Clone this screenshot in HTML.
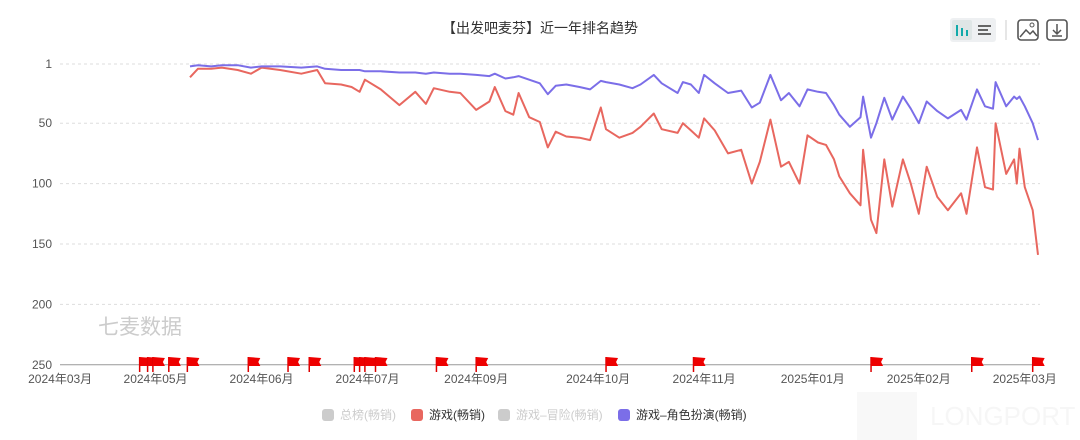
<!DOCTYPE html>
<html><head><meta charset="utf-8"><style>
body{margin:0;background:#fff;font-family:"Liberation Sans","Noto Sans CJK SC",sans-serif}
#wrap{position:relative;width:1080px;height:440px;overflow:hidden}
</style></head><body>
<div id="wrap">
<svg id="chart" width="1080" height="440">
<text x="540" y="33" text-anchor="middle" font-size="14" fill="#333">【出发吧麦芬】近一年排名趋势</text>
<g>
<rect x="950" y="18" width="46" height="24" rx="3" fill="#eef0f2"/>
<rect x="952" y="20" width="20" height="20" rx="2" fill="#dfe6e6"/>
<rect x="956" y="25" width="2" height="11" fill="#1aa"/><rect x="961" y="28" width="2" height="8" fill="#1aa"/><rect x="966" y="30" width="2" height="6" fill="#1aa"/>
<rect x="978" y="25" width="13" height="2" fill="#666"/><rect x="978" y="29" width="10" height="2" fill="#666"/><rect x="978" y="33" width="13" height="2" fill="#666"/>
</g>
<line x1="1006" y1="20" x2="1006" y2="40" stroke="#ccc"/>
<g><rect x="1018" y="20" width="20" height="20" rx="3" fill="none" stroke="#555" stroke-width="1.6"/><path d="M1020 37 L1026 30 L1030 34 L1033 31 L1037 36" fill="none" stroke="#555" stroke-width="1.5"/><circle cx="1032" cy="25" r="2" fill="none" stroke="#555"/></g>
<g><rect x="1047" y="20" width="20" height="20" rx="3" fill="none" stroke="#555" stroke-width="1.6"/><path d="M1057 24 V34 M1053 30 L1057 34 L1061 30 M1052 36 H1062" fill="none" stroke="#555" stroke-width="1.5"/></g>
<text x="98" y="334" font-size="21" fill="#ccc">七麦数据</text>
<g opacity="0.5"><rect x="857" y="392" width="60" height="48" fill="#f2f2f2"/><text x="930" y="425" font-size="26" fill="#eee">LONGPORT</text></g>
<g id="grid"></g><g id="series"></g><g id="flags"></g>
<g font-size="12">
<g><rect x="322" y="409" width="12" height="12" rx="3" fill="#ccc"/><text x="340" y="419" fill="#ccc">总榜(畅销)</text></g>
<g><rect x="411" y="409" width="12" height="12" rx="3" fill="#e8675f"/><text x="429" y="419" fill="#333">游戏(畅销)</text></g>
<g><rect x="498" y="409" width="12" height="12" rx="3" fill="#ccc"/><text x="516" y="419" fill="#ccc">游戏–冒险(畅销)</text></g>
<g><rect x="618" y="409" width="12" height="12" rx="3" fill="#7b6ee8"/><text x="636" y="419" fill="#333">游戏–角色扮演(畅销)</text></g>
</g>
</svg></div>
<script>
const days=[0,3,8,12,18,23,27,34,42,48,51,57,61,64,66,72,79,85,89,92,98,102,108,113,115,119,122,124,128,132,135,138,142,147,151,155,157,162,167,170,175,178,184,186,189,192,194,198,203,208,212,215,219,223,226,230,233,237,240,243,245,249,253,254,257,259,262,265,269,272,275,278,282,286,291,293,297,300,303,304,308,311,312,313,315,318,320];
const gameRank=[12,5,5,4,6,9,4,6,9,6,17,18,20,24,14,22,35,24,34,21,24,25,39,32,20,40,43,25,45,49,70,57,61,62,64,37,55,62,58,53,42,55,58,50,56,62,46,56,75,72,100,82,47,86,82,100,60,66,68,80,94,108,118,72,130,141,80,119,80,100,125,86,111,122,108,125,70,103,105,50,92,80,100,71,103,122,159];
const rpgRank=[3,2,3,2,2,4,3,3,4,3,5,6,6,6,7,7,8,8,9,8,9,9,10,11,9,13,12,11,14,17,26,19,18,20,22,15,16,18,21,18,10,17,25,16,18,25,10,17,25,23,37,33,10,31,25,36,22,24,25,35,43,53,45,28,62,50,29,47,28,38,50,32,40,46,39,47,22,36,38,16,36,28,30,28,36,50,64];
const yTicks=[1,50,100,150,200,250];
const xTickDays=[-49,-13,27,67,108,154,194,235,275,315];
const xTickLabels=["2024年03月","2024年05月","2024年06月","2024年07月","2024年09月","2024年10月","2024年11月","2025年01月","2025年02月","2025年03月"];
const flagDays=[-19,-16,-14,-8,-1,22,37,45,62,64,66,70,93,108,157,190,257,295,318];
const NS="http://www.w3.org/2000/svg";
const x=d=>190+d*848/320;
const y=v=>62.8+v*1.208;
function mk(tag,attrs,parent){const e=document.createElementNS(NS,tag);for(const k in attrs)e.setAttribute(k,attrs[k]);parent.appendChild(e);return e;}
const grid=document.getElementById('grid');
yTicks.forEach(t=>{
  const l=mk('line',{x1:60,x2:1040,y1:y(t),y2:y(t),stroke:t===250?'#999':'#ddd','stroke-dasharray':t===250?'':'3,3'},grid);
  
  
  const tx=mk('text',{x:52,y:y(t)+4,'text-anchor':'end','font-size':12,fill:'#555'},grid);tx.textContent=t;
  
  
});
xTickDays.forEach((d,i)=>{
  const tx=mk('text',{x:x(d),y:383,'text-anchor':'middle','font-size':12,fill:'#555'},grid);tx.textContent=xTickLabels[i];
  
  
});
const ser=document.getElementById('series');
[[gameRank,'#e8675f','line-games'],[rpgRank,'#7b6ee8','line-rpg']].forEach(([vals,c,n])=>{
  const p=mk('path',{d:vals.map((v,i)=>(i?'L':'M')+x(days[i]).toFixed(1)+' '+y(v).toFixed(1)).join(' '),fill:'none',stroke:c,'stroke-width':2,'stroke-linejoin':'round'},ser);
  
  
});
const fl=document.getElementById('flags');
flagDays.forEach(d=>{
  const g=mk('g',{},fl);
  
  
  const X=x(d);
  mk('line',{x1:X,x2:X,y1:357,y2:372,stroke:'#d00','stroke-width':1.5},g);
  mk('path',{d:`M${X} 357 L${X+12} 358 L${X+10} 362 L${X+12} 366 L${X} 366 Z`,fill:'#e00'},g);
});
</script></body></html>
